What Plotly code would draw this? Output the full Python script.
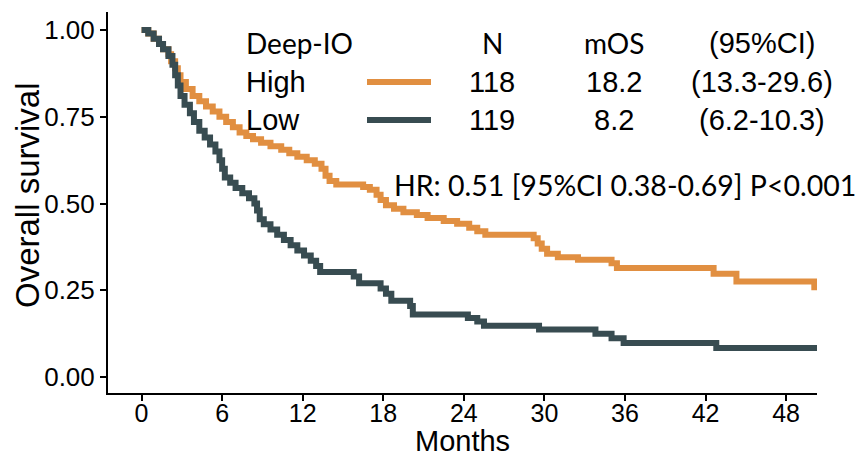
import plotly.graph_objects as go

# ---- data ----
high_t = [0, 0.5, 0.9, 1.3, 1.6, 2.0, 2.2, 2.5, 2.7, 2.9, 3.3, 3.8, 4.3, 4.8, 5.3, 5.8,
          6.3, 6.8, 7.3, 7.8, 8.3, 8.9, 9.6, 10.4, 11.0, 11.6, 12.3, 12.9, 13.4, 13.7,
          14.0, 14.5, 16.5, 17.0, 17.5, 17.8, 18.2, 18.8, 19.5, 20.5, 21.3, 22.5, 23.5,
          24.4, 25.0, 25.6, 29.2, 29.5, 29.8, 30.2, 31.0, 32.5, 35.0, 35.4, 42.6, 44.3, 50.1]
high_s = [1.0, 0.99, 0.975, 0.96, 0.945, 0.93, 0.91, 0.89, 0.87, 0.85, 0.83, 0.81, 0.795,
          0.78, 0.765, 0.75, 0.735, 0.72, 0.705, 0.695, 0.685, 0.675, 0.665, 0.655, 0.645,
          0.635, 0.625, 0.615, 0.60, 0.58, 0.565, 0.555, 0.548, 0.54, 0.525, 0.51, 0.495,
          0.485, 0.475, 0.467, 0.458, 0.45, 0.442, 0.43, 0.42, 0.41, 0.40, 0.385, 0.37,
          0.355, 0.345, 0.338, 0.328, 0.314, 0.298, 0.275, 0.25]

low_t = [0, 0.5, 0.9, 1.3, 1.6, 2.0, 2.3, 2.5, 2.7, 2.9, 3.2, 3.6, 3.9, 4.3, 4.7, 5.1, 5.5,
         5.8, 6.0, 6.2, 6.6, 7.0, 7.5, 8.0, 8.4, 8.6, 8.8, 9.1, 9.6, 10.1, 10.6, 11.1, 11.6,
         12.1, 12.6, 13.0, 13.3, 15.8, 16.2, 17.8, 18.2, 18.6, 20.0, 20.2, 24.3, 25.0, 25.5,
         29.6, 33.8, 35.0, 35.9, 42.8, 50.3]
low_s = [1.0, 0.99, 0.975, 0.96, 0.945, 0.925, 0.90, 0.87, 0.84, 0.81, 0.785, 0.76, 0.735,
         0.71, 0.69, 0.67, 0.65, 0.625, 0.60, 0.575, 0.56, 0.545, 0.53, 0.515, 0.50, 0.48,
         0.455, 0.44, 0.425, 0.41, 0.395, 0.38, 0.365, 0.35, 0.335, 0.32, 0.303, 0.29, 0.27,
         0.255, 0.24, 0.22, 0.205, 0.18, 0.17, 0.16, 0.148, 0.137, 0.125, 0.112, 0.098,
         0.084, 0.084]

groups = ["High", "Low"]
group_n = ["118", "119"]
group_mos = ["18.2", "8.2"]
group_ci = ["(13.3-29.6)", "(6.2-10.3)"]
header = ["Deep-IO", "N", "mOS", "(95%CI)"]
hr_text = "HR: 0.51 [95%CI 0.38-0.69] P<0.001"
x_title = "Months"
y_title = "Overall survival"

x_ticks = [0, 6, 12, 18, 24, 30, 36, 42, 48]
y_ticks = [0.0, 0.25, 0.5, 0.75, 1.0]
y_ticklabels = ["0.00", "0.25", "0.50", "0.75", "1.00"]

ORANGE = "#E18F41"
DARK = "#384C51"
colors = [ORANGE, DARK]

W, H = 859, 459
ML, MR, MT, MB = 108, 42, 12, 66
PW, PH = W - ML - MR, H - MT - MB


def px(xp):
    return (xp - ML) / PW


def py(yp):
    return (H - MB - yp) / PH


fig = go.Figure()
for t, s, c, name in [(high_t, high_s, ORANGE, "High"), (low_t, low_s, DARK, "Low")]:
    fig.add_trace(go.Scatter(x=t, y=s, mode="lines", line=dict(shape="hv", color=c, width=6),
                             name=name, showlegend=False))

sans = "Liberation Sans, Arial, sans-serif"
cal = "Lato, Carlito, Calibri, sans-serif"
ann = []
row_y = [43, 82, 120]
# header row
ann.append(dict(x=px(245), y=py(row_y[0]), text=header[0], xanchor="left",
                font=dict(family=cal, size=28, color="black")))
ann.append(dict(x=px(492), y=py(row_y[0]), text=header[1], xanchor="center",
                font=dict(family=cal, size=28, color="black")))
ann.append(dict(x=px(614), y=py(row_y[0]), text=header[2], xanchor="center",
                font=dict(family=cal, size=28, color="black")))
ann.append(dict(x=px(762), y=py(row_y[0]), text=header[3], xanchor="center",
                font=dict(family=sans, size=29, color="black")))
shapes = []
for i in range(2):
    yy = row_y[i + 1]
    ann.append(dict(x=px(245), y=py(yy), text=groups[i], xanchor="left",
                    font=dict(family=sans, size=29, color="black")))
    ann.append(dict(x=px(492), y=py(yy), text=group_n[i], xanchor="center",
                    font=dict(family=sans, size=29, color="black")))
    ann.append(dict(x=px(614), y=py(yy), text=group_mos[i], xanchor="center",
                    font=dict(family=sans, size=29, color="black")))
    ann.append(dict(x=px(762), y=py(yy), text=group_ci[i], xanchor="center",
                    font=dict(family=sans, size=29, color="black")))
    shapes.append(dict(type="line", xref="paper", yref="paper", x0=px(367), x1=px(431),
                       y0=py(yy), y1=py(yy), line=dict(color=colors[i], width=6)))

ann.append(dict(x=px(393), y=py(185), text=hr_text, xanchor="left",
                font=dict(family=cal, size=28.5, color="black")))
ann.append(dict(x=px(462), y=py(441), text=x_title, xanchor="center",
                font=dict(family=sans, size=29, color="black")))
ann.append(dict(x=px(27), y=py(195), text=y_title, xanchor="center", textangle=-90,
                font=dict(family=sans, size=33, color="black")))
for a in ann:
    a.update(xref="paper", yref="paper", yanchor="middle", showarrow=False, borderpad=0)

fig.update_layout(
    width=W, height=H,
    margin=dict(l=ML, r=MR, t=MT, b=MB, autoexpand=False),
    paper_bgcolor="white", plot_bgcolor="white",
    annotations=ann, shapes=shapes,
    xaxis=dict(range=[-2.5, 50.3], tickvals=x_ticks, ticktext=[str(v) for v in x_ticks],
               automargin=False, ticklabelstandoff=-9,
               showgrid=False, zeroline=False, showline=True, linecolor="black", linewidth=2,
               ticks="outside", ticklen=6, tickwidth=1.5, tickcolor="black",
               tickfont=dict(family=sans, size=25, color="black")),
    yaxis=dict(range=[-0.046, 1.052], tickvals=y_ticks, ticktext=y_ticklabels,
               automargin=False,
               showgrid=False, zeroline=False, showline=True, linecolor="black", linewidth=2,
               ticks="outside", ticklen=6, tickwidth=1.5, tickcolor="black",
               tickfont=dict(family=sans, size=26, color="black")),
)

fig.write_html("out.html")
